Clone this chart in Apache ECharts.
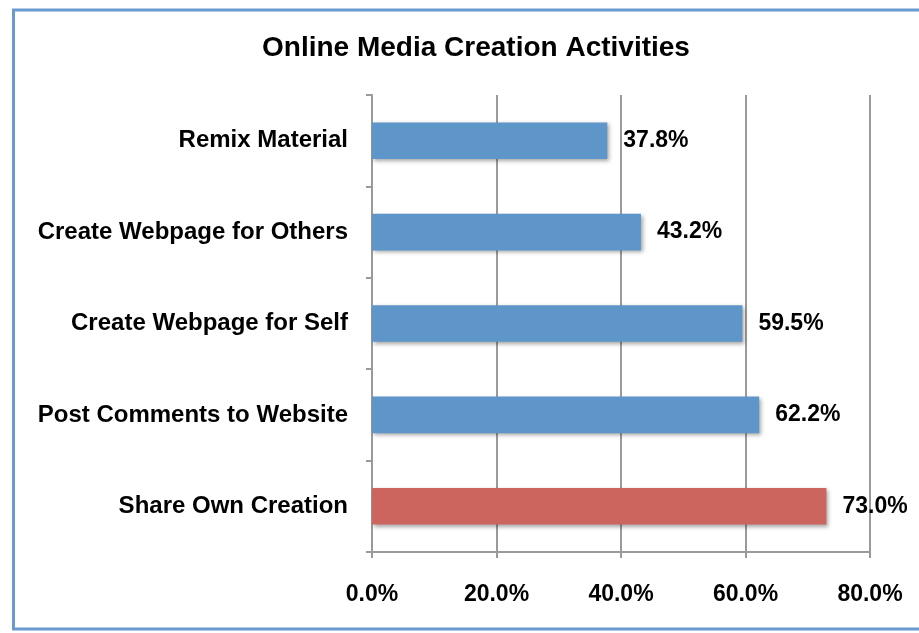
<!DOCTYPE html>
<html>
<head>
<meta charset="utf-8">
<style>
  html, body { margin: 0; padding: 0; background: #ffffff; }
  #chart { width: 919px; height: 633px; }
</style>
<script src="https://cdn.jsdelivr.net/npm/echarts@6/dist/echarts.min.js"></script>
</head>
<body>
<div id="chart"></div>
<script>
// Activities, listed bottom to top as drawn on the category axis
const categories = [
  'Share Own Creation',
  'Post Comments to Website',
  'Create Webpage for Self',
  'Create Webpage for Others',
  'Remix Material'
];
// Share of respondents (%)
const values = [73.0, 62.2, 59.5, 43.2, 37.8];
// Highlighted activity index
const highlightIndex = 0;
const xTicks = [0, 20, 40, 60, 80];

const blue = '#5f96c9';
const red = '#cd655f';
const font = '"Liberation Sans", Arial, sans-serif';

const chart = echarts.init(document.getElementById('chart'), null, { renderer: 'canvas' });

chart.setOption({
  backgroundColor: '#ffffff',
  animation: false,
  title: {
    text: 'Online Media Creation Activities',
    left: 471,
    top: 29,
    textAlign: 'center',
    textStyle: { fontFamily: font, fontWeight: 'bold', fontSize: 28, color: '#000' }
  },
  graphic: [
    {
      type: 'rect',
      shape: { x: 13.5, y: 10, width: 1000, height: 619 },
      style: { fill: 'none', stroke: '#6a9bd0', lineWidth: 3 },
      z: 100
    }
  ],
  grid: { left: 372, right: 49, top: 95, bottom: 81, containLabel: false },
  xAxis: {
    type: 'value',
    min: xTicks[0],
    max: xTicks[xTicks.length - 1],
    interval: 20,
    axisLine: { show: true, lineStyle: { color: '#9a9a9a', width: 2 } },
    axisTick: { show: true, length: 6, lineStyle: { color: '#9a9a9a', width: 2 } },
    splitLine: { show: true, lineStyle: { color: '#9a9a9a', width: 2 } },
    axisLabel: {
      margin: 31,
      formatter: v => v.toFixed(1) + '%',
      fontFamily: font, fontWeight: 'bold', fontSize: 23, color: '#000'
    }
  },
  yAxis: {
    type: 'category',
    data: categories,
    axisLine: { show: true, lineStyle: { color: '#9a9a9a', width: 2 } },
    axisTick: { show: true, length: 6, lineStyle: { color: '#9a9a9a', width: 2 } },
    axisLabel: {
      margin: 24,
      fontFamily: font, fontWeight: 'bold', fontSize: 24, color: '#000'
    }
  },
  series: [{
    type: 'bar',
    data: values.map((v, i) => ({
      value: v,
      itemStyle: { color: i === highlightIndex ? red : blue }
    })),
    barCategoryGap: '60%',
    itemStyle: {
      shadowColor: 'rgba(0,0,0,0.35)',
      shadowBlur: 4,
      shadowOffsetX: 2,
      shadowOffsetY: 2
    },
    label: {
      show: true,
      position: 'right',
      distance: 16,
      formatter: p => p.value.toFixed(1) + '%',
      fontFamily: font, fontWeight: 'bold', fontSize: 23, color: '#000'
    }
  }]
});
</script>
</body>
</html>
